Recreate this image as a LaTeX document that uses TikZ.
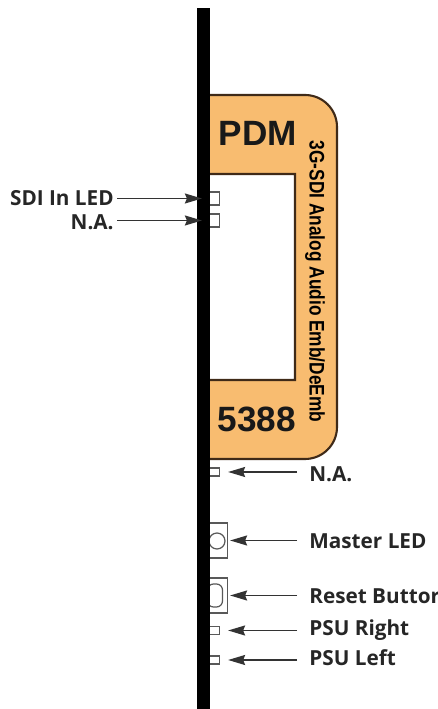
\documentclass[tikz,border=0pt]{standalone}
\usepackage{fontspec}
\setmainfont{Open Sans}
\newfontfamily\arialfont{Liberation Sans}
\newfontfamily\narrowfont[FakeStretch=0.82]{Liberation Sans}
\usepackage{tikz}
\usetikzlibrary{arrows.meta}
\definecolor{pdmorange}{HTML}{F8BC70}
\definecolor{pdmbrown}{HTML}{3F2A18}
\definecolor{arrowgray}{HTML}{333333}
\tikzset{
    ledbox/.style={rectangle, draw=black!65, fill=white, line width=0.7pt, minimum width=0.2cm, inner sep=0pt},
    bigbox/.style={rectangle, draw=black!65, fill=white, line width=0.7pt, minimum width=0.36cm, minimum height=0.7cm, inner sep=0pt},
    lbl/.style={font=\bfseries\fontsize{11.8}{11.8}\selectfont, text=black!85, inner sep=0pt},
    pointer/.style={-{Stealth[length=3.4mm, width=2mm, inset=0.4mm]}, line width=0.9pt, draw=arrowgray},
}
\begin{document}
\begin{tikzpicture}[x=0.02cm, y=0.02cm]
            \useasboundingbox (0,0) rectangle (438,709);
            \clip (0,0) rectangle (438,709);
            % Draw module outline
            \draw[fill=pdmorange, draw=pdmbrown, line width=1.2pt] (205,614) -- (305,614) arc (90:0:32) -- (337,282) arc (0:-90:32) -- (205,250) -- (205,329) -- (295,329) -- (295,535) -- (205,535) -- cycle;
            \node[font=\arialfont\bfseries\fontsize{20}{20}\selectfont, text=black!90, inner sep=0pt] (pdm) at (258,576) {PDM};
            \node[font=\arialfont\bfseries\fontsize{20}{20}\selectfont, text=black!90, inner sep=0pt] (num) at (257,290) {5388};
            \node[font=\narrowfont\bfseries\fontsize{12}{12}\selectfont, rotate=-90, inner sep=0pt] (title) at (315,427.5) {3G-SDI Analog Audio Emb/DeEmb};
            % Draw LEDs and button
            \node[ledbox, minimum height=0.26cm] (sdiled) at (214.5,510.5) {};
            \node[ledbox, minimum height=0.26cm] (naled) at (214.5,488.5) {};
            \node[ledbox, minimum height=0.16cm] (naledb) at (214.5,237) {};
            \node[bigbox] (master) at (218.5,168.5) {};
            \node[circle, draw=black!65, fill=white, line width=0.7pt, minimum size=0.32cm, inner sep=0pt] (mastercirc) at (217,168) {};
            \node[bigbox] (reset) at (218.5,113.5) {};
            \node[rectangle, rounded corners=1.2mm, draw=black!65, fill=white, line width=0.7pt, minimum width=0.3cm, minimum height=0.46cm, inner sep=0pt] (resetbtn) at (215,113.5) {};
            \node[ledbox, minimum height=0.16cm] (psur) at (214.5,78.5) {};
            \node[ledbox, minimum height=0.16cm] (psul) at (214.5,49) {};
            % Draw front panel bar
            \fill[black] (197,0) rectangle (210,701);
            % Draw labels (left side)
            \node[lbl, anchor=east] (sdilbl) at (114,511) {SDI In LED};
            \node[lbl, anchor=east] (nalbl) at (114,487) {N.A.};
            % Draw labels (right side)
            \foreach \name/\txt/\y in {nablbl/N.A./235, masterlbl/Master LED/168, resetlbl/Reset Buttor/113, psurlbl/PSU Right/79, psullbl/PSU Left/51} {
                \node[lbl, anchor=west] (\name) at (309,\y) {\txt};
            }
            % Draw arrows
            \draw[pointer, shorten <=0.06cm, shorten >=0.14cm] (sdilbl.east |- sdiled) -- (sdiled);
            \draw[pointer, shorten <=0.06cm, shorten >=0.14cm] (nalbl.east |- naled) -- (naled);
            \draw[pointer, shorten <=0.24cm, shorten >=0.16cm] (nablbl.west |- naledb) -- (naledb);
            \draw[pointer, shorten <=0.24cm, shorten >=0.04cm] (masterlbl.west |- master) -- (master);
            \draw[pointer, shorten <=0.24cm, shorten >=0.04cm] (resetlbl.west |- reset) -- (reset);
            \draw[pointer, shorten <=0.24cm, shorten >=0.16cm] (psurlbl.west |- psur) -- (psur);
            \draw[pointer, shorten <=0.24cm, shorten >=0.16cm] (psullbl.west |- psul) -- (psul);
\end{tikzpicture}
\end{document}
